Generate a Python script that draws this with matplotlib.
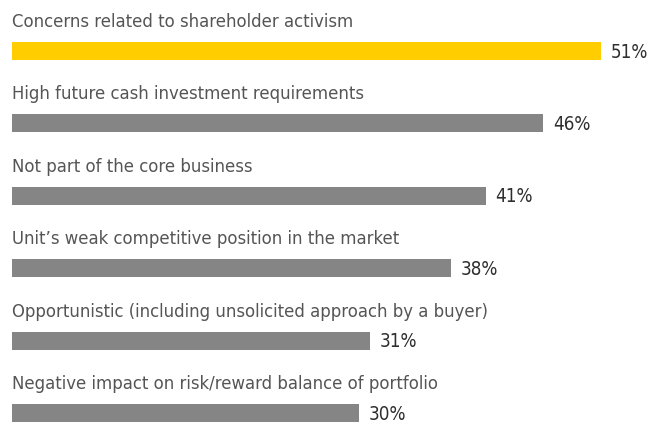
import matplotlib.pyplot as plt

categories = [
    'Concerns related to shareholder activism',
    'High future cash investment requirements',
    'Not part of the core business',
    "Unit\u2019s weak competitive position in the market",
    'Opportunistic (including unsolicited approach by a buyer)',
    'Negative impact on risk/reward balance of portfolio',
]
values = [51, 46, 41, 38, 31, 30]
value_labels = ['51%', '46%', '41%', '38%', '31%', '30%']

plt.rcParams['font.family'] = 'DejaVu Sans'

fig = plt.figure(figsize=(6.5, 4.23), dpi=100)
ax = fig.add_axes([0, 0, 1, 1])

colors = ['#FFCD00'] + ['#858585'] * (len(values) - 1)
ypos = list(range(len(values)))
ax.barh(ypos, values, height=0.25, color=colors, left=0)

for i, (cat, v, lab) in enumerate(zip(categories, values, value_labels)):
    ax.text(0, i - 0.40, cat, ha='left', va='center', fontsize=13.2,
            fontstretch='condensed', color='#555555')
    ax.annotate(lab, (v, i), xytext=(7, -0.8), textcoords='offset points',
                ha='left', va='center', fontsize=13.5,
                fontstretch='condensed', color='#2e2e2e')

scale = 11.55  # pixels per percent
ax.set_xlim(-12 / scale, 638 / scale)
ax.set_ylim(5.138, -0.704)
ax.axis('off')

fig.savefig('out.png', dpi=100)
